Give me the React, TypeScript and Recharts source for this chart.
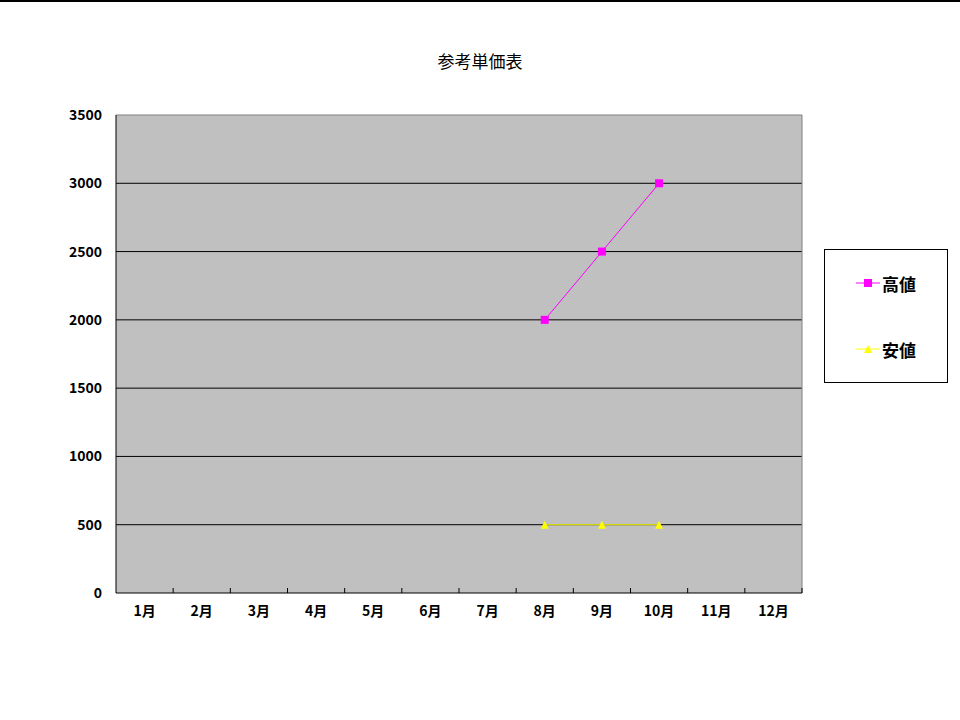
import React from 'react';
import { LineChart, Line, XAxis, YAxis, CartesianGrid } from 'recharts';

const months = ['1月', '2月', '3月', '4月', '5月', '6月', '7月', '8月', '9月', '10月', '11月', '12月'];
const highValues = [null, null, null, null, null, null, null, 2000, 2500, 3000, null, null];
const lowValues = [null, null, null, null, null, null, null, 500, 500, 500, null, null];
const yTicks = [0, 500, 1000, 1500, 2000, 2500, 3000, 3500];
const title = '参考単価表';
const seriesNames = { high: '高値', low: '安値' };

const data = months.map((m, i) => ({ month: m, high: highValues[i], low: lowValues[i] }));

const FONT = '"Noto Sans CJK JP", "Noto Sans", sans-serif';
const HIGH_COLOR = '#ff00ff';
const LOW_COLOR = '#ffff00';

const SquareDot = (props: any) => {
    const { cx, cy, value, index } = props;
    if (value == null || cx == null || cy == null) return <g key={`s${index}`} />;
    return <rect key={`s${index}`} x={cx - 4} y={cy - 4} width={8} height={8} fill={HIGH_COLOR} />;
};

const TriangleDot = (props: any) => {
    const { cx, cy, value, index } = props;
    if (value == null || cx == null || cy == null) return <g key={`t${index}`} />;
    return <polygon key={`t${index}`} points={`${cx},${cy - 4} ${cx + 4},${cy + 4} ${cx - 4},${cy + 4}`} fill={LOW_COLOR} />;
};

const MonthTick = (props: any) => {
    const { x, y, payload } = props;
    const half = payload.offset || 0;
    const axisY = y - 12;
    return (
        <g>
            <line x1={x + half} x2={x + half} y1={axisY} y2={axisY - 5} stroke="#000" />
            <text x={x} y={axisY + 23} textAnchor="middle" fontSize={14} fontWeight="bold" fill="#000" fontFamily={FONT}>
                {payload.value}
            </text>
        </g>
    );
};

const LegendItem = ({ color, label, marker }: { color: string; label: string; marker: 'square' | 'triangle' }) => (
    <div style={{ display: 'flex', alignItems: 'center', height: 22 }}>
        <svg width={26} height={12} style={{ marginRight: 1 }}>
            <line x1={1} x2={25} y1={6} y2={6} stroke={color} />
            {marker === 'square' ? (
                <rect x={9} y={2} width={8} height={8} fill={color} />
            ) : (
                <polygon points="13,2 17,10 9,10" fill={color} />
            )}
        </svg>
        <span style={{ fontSize: 17, fontWeight: 'bold', fontFamily: FONT, color: '#000' }}>{label}</span>
    </div>
);

const App: React.FC = () => {
    return (
        <div style={{ position: 'absolute', left: 0, top: 0, width: 960, height: 720, background: '#fff', overflow: 'hidden' }}>
            <div style={{ position: 'absolute', left: 0, top: 0, width: 960, height: 2, background: '#000' }} />
            <div
                style={{
                    position: 'absolute',
                    left: 0,
                    top: 48,
                    width: 960,
                    textAlign: 'center',
                    fontSize: 17,
                    fontFamily: FONT,
                    color: '#000',
                }}
            >
                {title}
            </div>
            <LineChart width={960} height={720} data={data} margin={{ top: 115, right: 158, bottom: 97, left: 56 }}>
                <CartesianGrid
                    fill="#c0c0c0"
                    stroke="#000"
                    vertical={false}
                    horizontalValues={[500, 1000, 1500, 2000, 2500, 3000]}
                />
                <CartesianGrid
                    stroke="#808080"
                    horizontalValues={[3500]}
                    verticalCoordinatesGenerator={({ offset }: any) => [offset.left + offset.width]}
                />
                <XAxis
                    dataKey="month"
                    scale="band"
                    height={30}
                    axisLine={{ stroke: '#000' }}
                    tickLine={false}
                    tickSize={0}
                    tickMargin={12}
                    interval={0}
                    tick={<MonthTick />}
                />
                <YAxis
                    width={60}
                    domain={[0, 3500]}
                    ticks={yTicks}
                    axisLine={{ stroke: '#000' }}
                    tickLine={false}
                    tickSize={0}
                    tickMargin={14}
                    tick={{ fill: '#000', fontSize: 14, fontWeight: 'bold', fontFamily: FONT }}
                />
                <Line
                    type="linear"
                    dataKey="high"
                    name={seriesNames.high}
                    stroke={HIGH_COLOR}
                    strokeWidth={1}
                    dot={<SquareDot />}
                    isAnimationActive={false}
                />
                <Line
                    type="linear"
                    dataKey="low"
                    name={seriesNames.low}
                    stroke={LOW_COLOR}
                    strokeWidth={1}
                    dot={<TriangleDot />}
                    isAnimationActive={false}
                />
            </LineChart>
            <div
                style={{
                    position: 'absolute',
                    left: 824,
                    top: 249,
                    width: 124,
                    height: 134,
                    border: '1px solid #000',
                    background: '#fff',
                    boxSizing: 'border-box',
                    paddingLeft: 30,
                    paddingTop: 22,
                }}
            >
                <LegendItem color={HIGH_COLOR} label={seriesNames.high} marker="square" />
                <div style={{ height: 44 }} />
                <LegendItem color={LOW_COLOR} label={seriesNames.low} marker="triangle" />
            </div>
        </div>
    );
};

export default App;
